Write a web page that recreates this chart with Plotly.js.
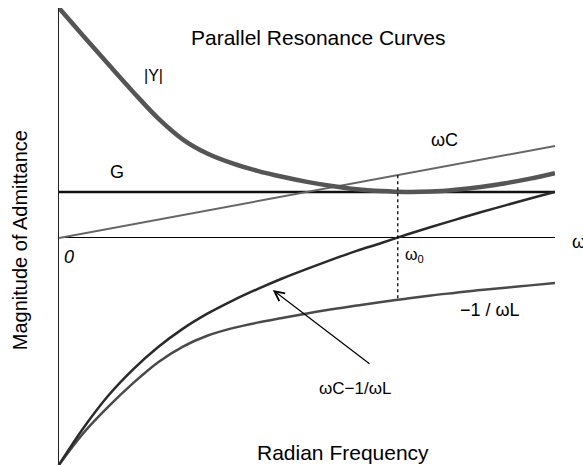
<!DOCTYPE html>
<html>
<head>
<meta charset="utf-8">
<script src="https://cdn.plot.ly/plotly-3.0.1.min.js"></script>
<style>html,body{margin:0;padding:0;background:#fff}#chart{width:583px;height:466px}</style>
</head>
<body>
<div id="chart"></div>
<script>
// Radian frequency samples (arbitrary units)
var freq = [0, 0.5, 1, 1.5, 2, 2.5, 3, 3.5, 4, 4.5, 5, 5.5, 6, 6.5, 7, 7.5, 8, 8.5, 9, 9.5, 10];
// |Y| magnitude of admittance
var magY = [5.0, 4.38, 3.77, 3.17, 2.60, 2.14, 1.83, 1.62, 1.46, 1.33, 1.22, 1.13, 1.06, 1.02, 1.0, 1.01, 1.05, 1.11, 1.19, 1.29, 1.41];
// wC - 1/wL (susceptance)
var suscept = [-4.93, -4.12, -3.42, -2.85, -2.37, -1.97, -1.64, -1.36, -1.11, -0.88, -0.67, -0.47, -0.28, -0.11, 0.07, 0.24, 0.40, 0.56, 0.71, 0.86, 1.0];
// -1/wL
var invL = [-4.93, -4.23, -3.66, -3.15, -2.70, -2.36, -2.12, -1.96, -1.84, -1.74, -1.64, -1.55, -1.47, -1.39, -1.32, -1.25, -1.19, -1.13, -1.08, -1.03, -0.98];
// wC line
var capX = [0, 10];
var capY = [0, 2];
// G (conductance)
var condX = [0, 10];
var condY = [1, 1];
// resonance frequency marker
var w0 = 6.83;
var w0Span = [1.366, -1.33];

var fontFam = '"Liberation Sans", Arial, sans-serif';
var traces = [
  {x: condX, y: condY, mode: 'lines', line: {color: '#111', width: 2.5}, hoverinfo: 'skip'},
  {x: capX, y: capY, mode: 'lines', line: {color: '#666', width: 2}, hoverinfo: 'skip'},
  {x: freq, y: invL, mode: 'lines', line: {color: '#4a4a4a', width: 2.5, shape: 'spline', smoothing: 1}, hoverinfo: 'skip'},
  {x: freq, y: suscept, mode: 'lines', line: {color: '#2a2a2a', width: 2.5, shape: 'spline', smoothing: 1}, hoverinfo: 'skip'},
  {x: freq, y: magY, mode: 'lines', line: {color: '#555', width: 4.5, shape: 'spline', smoothing: 1}, hoverinfo: 'skip'},
  {x: [w0, w0], y: w0Span, mode: 'lines', line: {color: '#000', width: 1.3, dash: 'dot'}, hoverinfo: 'skip'}
];

function lab(text, x, y, size, extra) {
  var a = {text: text, x: x, y: y, xref: 'x', yref: 'y', showarrow: false,
    xanchor: 'center', yanchor: 'middle',
    font: {family: fontFam, size: size || 16, color: '#000'}};
  if (extra) for (var k in extra) a[k] = extra[k];
  return a;
}

var layout = {
  width: 583, height: 466,
  margin: {l: 59, r: 28, t: 8, b: 1},
  paper_bgcolor: '#fff', plot_bgcolor: '#fff',
  showlegend: false,
  xaxis: {range: [0, 10], showgrid: false, zeroline: false, showticklabels: false, ticks: '', showline: false},
  yaxis: {range: [-4.935, 5.0], showgrid: false, zeroline: true, zerolinecolor: '#000', zerolinewidth: 1,
          showticklabels: false, ticks: '', showline: true, linecolor: '#222', linewidth: 1.5},
  annotations: [
    {text: 'Parallel Resonance Curves', xref: 'paper', yref: 'paper', x: 0.523, y: 0.9365, showarrow: false,
     xanchor: 'center', yanchor: 'middle', font: {family: fontFam, size: 21, color: '#000'}},
    {text: 'Magnitude of Admittance', xref: 'paper', yref: 'paper', x: -0.0786, y: 0.492, showarrow: false,
     xanchor: 'center', yanchor: 'middle', textangle: -90, font: {family: fontFam, size: 20, color: '#000'}},
    {text: 'Radian Frequency', xref: 'paper', yref: 'paper', x: 0.5716, y: 0.0284, showarrow: false,
     xanchor: 'center', yanchor: 'middle', font: {family: fontFam, size: 21, color: '#000'}},
    lab('|Y|', 1.90, 3.54, 16),
    lab('G', 1.17, 1.43, 18),
    lab('ωC', 7.78, 2.13, 18),
    lab('<i>0</i>', 0.2, -0.41, 18),
    lab('ω<sub>0</sub>', 7.16, -0.37, 16),
    lab('−1 / ωL', 8.69, -1.57, 18),
    lab('ωC−1/ωL', 5.97, -3.28, 17),
    {text: 'ω', xref: 'paper', yref: 'paper', x: 1.030, y: 0.4886, xanchor: 'left', yanchor: 'middle', showarrow: false,
     font: {family: fontFam, size: 18, color: '#000'}},
    {text: '', x: 4.31, y: -1.13, xref: 'x', yref: 'y', ax: 6.29, ay: -2.76, axref: 'x', ayref: 'y',
     showarrow: true, arrowhead: 5, arrowsize: 1.6, arrowwidth: 1.2, arrowcolor: '#000'}
  ]
};

Plotly.newPlot('chart', traces, layout, {staticPlot: true, displayModeBar: false});
</script>
</body>
</html>
